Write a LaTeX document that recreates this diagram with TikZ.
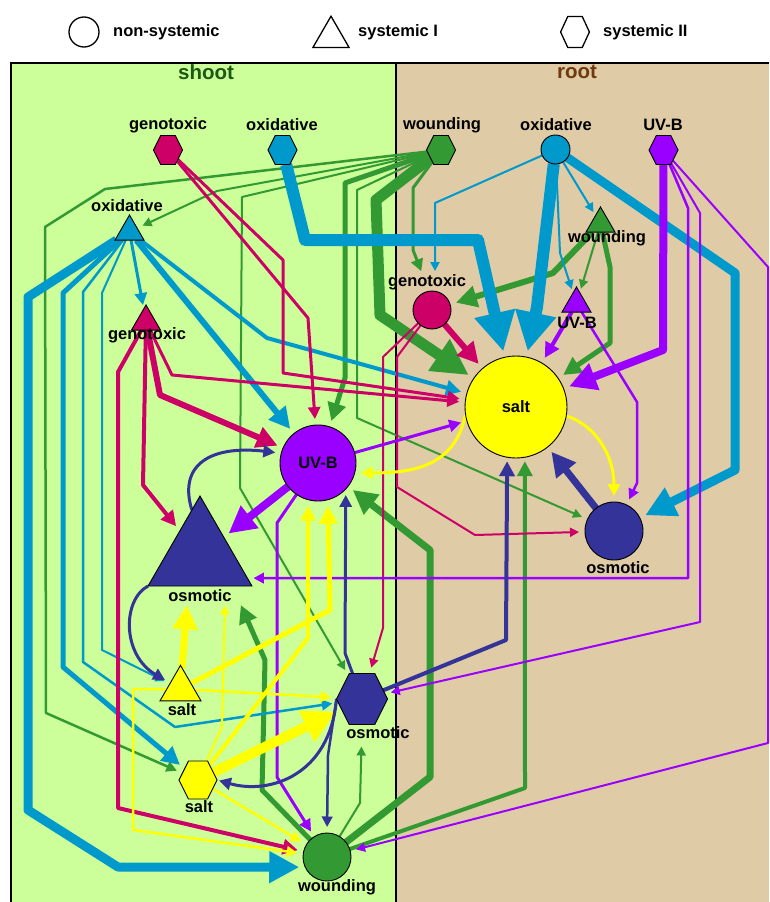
\documentclass[tikz,border=0pt]{standalone}
\usepackage{fontspec}
\setmainfont{Liberation Sans}
\usetikzlibrary{arrows.meta,shapes.geometric}
\definecolor{cshoot}{HTML}{CCFF99}
\definecolor{croot}{HTML}{DFCBA6}
\definecolor{cgen}{HTML}{CC0066}
\definecolor{cox}{HTML}{0099CC}
\definecolor{cw}{HTML}{339933}
\definecolor{cuv}{HTML}{9900FF}
\definecolor{csalt}{HTML}{FFFF00}
\definecolor{cosm}{HTML}{333399}
\definecolor{cshootT}{HTML}{1A5A12}
\definecolor{crootT}{HTML}{6E3A0E}
\pgfdeclarelayer{bg}\pgfdeclarelayer{edges}\pgfsetlayers{bg,edges,main}
\tikzset{
 lk/.style={line width=#1, -{Triangle[length=3pt 3,width=3pt 3]}, shorten >=6pt, line join=round},
 nd/.style={draw=black, line width=0.9pt, inner sep=0pt, outer sep=0pt},
 circ/.style={nd, circle, fill=#1},
 tri/.style={nd, regular polygon, regular polygon sides=3, fill=#1},
 hexs/.style={nd, regular polygon, regular polygon sides=6, fill=#1},
 lab/.style={font=\bfseries\fontsize{16.5}{18}\selectfont, inner sep=1pt},
 ttl/.style={font=\bfseries\fontsize{20.5}{24}\selectfont, inner sep=1pt},
}
\newcommand\hexat[4]{\begin{scope}[shift={#2},xscale=0.866]\node[hexs=#4,minimum size=#3,transform shape] (#1) at (0,0) {};\end{scope}}
\begin{document}
\begin{tikzpicture}[x=1pt,y=-1pt]
\useasboundingbox (0,0) rectangle (769,902);
\begin{pgfonlayer}{bg}
\fill[white] (0,0) rectangle (769,902);
\fill[cshoot] (11,63) rectangle (396,902);
\fill[croot] (396,63) rectangle (769,902);
\draw[line width=1.4pt] (11,902) -- (11,63) -- (769,63);
\draw[line width=1.4pt] (396,63) -- (396,902);
\end{pgfonlayer}

% legend
\node[nd, circle, minimum size=30pt, fill=white, line width=1.3pt] (legC) at (84,32) {};
\node[lab, anchor=west] (legCt) at (112,32) {non-systemic};
\node[nd, regular polygon, regular polygon sides=3, minimum size=41.6pt, fill=white, line width=1.3pt] (legT) at (331,37) {};
\node[lab, anchor=west] (legTt) at (357,32) {systemic I};
\begin{scope}[shift={(575,32)},xscale=0.8]
\node[hexs=white, minimum size=36pt, line width=1.3pt, transform shape] (legH) at (0,0) {};
\end{scope}
\node[lab, anchor=west] (legHt) at (602,32) {systemic II};
\node[ttl, text=cshootT] (tS) at (206,72) {shoot};
\node[ttl, text=crootT] (tR) at (577,72) {root};

% nodes
\node[circ=cox, minimum size=29pt] (oR0) at (555.5,149.5) {};
\hexat{gS2}{(168,150)}{33.5pt}{cgen}
\hexat{oS2}{(282.5,150)}{33.5pt}{cox}
\hexat{wR2}{(441,150)}{33.5pt}{cw}
\hexat{uR2}{(663.5,150)}{33.5pt}{cuv}
\node[tri=cox, minimum size=33.5pt] (oS1) at (129.5,231.7) {};
\node[tri=cgen, minimum size=33.5pt] (gS1) at (146,321.7) {};
\node[tri=cw, minimum size=33.5pt] (wR1) at (600.5,223.7) {};
\node[tri=cuv, minimum size=33.5pt] (uR1) at (576.5,303.7) {};
\node[circ=cgen, minimum size=38pt] (gR0) at (432,310) {};
\node[circ=csalt, minimum size=102pt, lab] (sR0) at (516,407) {salt};
\node[circ=cuv, minimum size=76pt, lab] (uS0) at (318,463) {UV-B};
\node[circ=cosm, minimum size=58pt] (mR0) at (614,531) {};
\node[tri=cosm, minimum size=120pt] (mS1) at (200,556) {};
\node[tri=csalt, minimum size=47.3pt] (sS1) at (180.5,689) {};
\hexat{sS2}{(198,780)}{43.9pt}{csalt}
\hexat{mS2}{(362,699)}{58.9pt}{cosm}
\node[circ=cw, minimum size=48pt] (wS0) at (327,857) {};

% labels
\node[lab] (lgS2) at (168,125) {genotoxic};
\node[lab] (loS2) at (282,125) {oxidative};
\node[lab] (lwR2) at (442,125) {wounding};
\node[lab] (loR0) at (556,125) {oxidative};
\node[lab] (luR2) at (663,125) {UV-B};
\node[lab] (loS1) at (127,206) {oxidative};
\node[lab] (lgS1) at (147,335) {genotoxic};
\node[lab] (lwR1) at (607,238) {wounding};
\node[lab] (lgR0) at (427,282) {genotoxic};
\node[lab] (luR1) at (577,323) {UV-B};
\node[lab] (lmR0) at (618,568) {osmotic};
\node[lab] (lmS1) at (200,596) {osmotic};
\node[lab] (lsS1) at (182,710) {salt};
\node[lab] (lsS2) at (199,807) {salt};
\node[lab] (lmS2) at (378,733) {osmotic};
\node[lab] (lwS0) at (337,887) {wounding};

\begin{pgfonlayer}{edges}
% green
\draw[lk=2pt,cw] (wR2) -- (217,191) -- (oS1);
\draw[lk=2.5pt,cw] (wR2) -- (105,189) -- (45,227) -- (46,713) -- (sS2);
\draw[lk=2pt,cw] (wR2) -- (242,197) -- (240,488) -- (mS2);
\draw[lk=5pt,cw] (wR2) -- (345,183) -- (345,378) -- (uS0);
\draw[lk=2pt,cw] (wR2) -- (357,190) -- (357,418) -- (mR0);
\draw[lk=11pt,cw] (wR2) -- (376,200) -- (380,315) -- (sR0);
\draw[lk=3pt,cw,shorten >=2pt] (wR2) -- (413,188) -- (413,250) -- ([xshift=-5pt]lgR0.north);
\draw[lk=6pt,cw] (wR1) -- (553,273) -- (gR0);
\draw[lk=2pt,cw,shorten >=4pt] (wR1) -- (uR1);
\draw[lk=5pt,cw] (wR1) -- (610,267) -- (610,343) -- (sR0);
\draw[lk=7pt,cw] (wS0) -- (430,777) -- (430,550) -- (uS0);
\draw[lk=4pt,cw,shorten >=4pt] (wS0) -- (525,788) -- (sR0.-80);
\draw[lk=2pt,cw,shorten >=22pt] (wS0) -- (360,803) -- (mS2.south);
\draw[lk=5pt,cw,shorten >=2pt] (wS0) -- (262,790) -- (265,660) -- ([xshift=40pt]lmS1.south);
% blue
\draw[lk=12pt,cox] (oS2) -- (305,240) -- (478,240) -- (sR0);
\draw[lk=12pt,cox] (oR0) -- (537,307) -- (sR0);
\draw[lk=9pt,cox] (oR0) -- (735,273) -- (735,470) -- (mR0);
\draw[lk=2pt,cox,shorten >=4pt] (oR0) -- (wR1);
\draw[lk=2pt,cox,shorten >=2pt] (oR0) -- (435,203) -- ([xshift=8pt]lgR0.north);
\draw[lk=2pt,cox,shorten >=4pt] (oR0) -- (560,253) -- (uR1);
\draw[lk=3pt,cox,shorten >=4pt] (oS1) -- (gS1);
\draw[lk=6pt,cox] (oS1) -- (uS0);
\draw[lk=4pt,cox] (oS1) -- (267,338) -- (sR0);
\draw[lk=9pt,cox] (oS1) -- (28,297) -- (28,810) -- (118,867) -- (wS0.205);
\draw[lk=5pt,cox] (oS1) -- (63,293) -- (63,667) -- (sS2);
\draw[lk=2.5pt,cox] (oS1) -- (83,292) -- (83,662) -- (175,727) -- (mS2);
\draw[lk=2pt,cox] (oS1) -- (102,293) -- (102,650) -- (sS1);
% crimson
\draw[lk=3pt,cgen] (gS2) -- (283,260) -- (283,373) -- (sR0);
\draw[lk=3pt,cgen] (gS2) -- (308,318) -- (uS0);
\draw[lk=6pt,cgen] (gS1) -- (160,395) -- (uS0);
\draw[lk=4pt,cgen] (gS1) -- (143,485) -- (mS1);
\draw[lk=3pt,cgen] (gS1) -- (172,375) -- (sR0);
\draw[lk=4pt,cgen] (gS1) -- (118,372) -- (118,808) -- (wS0);
\draw[lk=6pt,cgen] (gR0) -- (sR0);
\draw[lk=2pt,cgen] (gR0) -- (383,357) -- (383,628) -- (mS2);
\draw[lk=2pt,cgen] (gR0) -- (397,357) -- (397,487) -- (475,535) -- (mR0);
% purple
\draw[lk=8pt,cuv] (uR2) -- (663,350) -- (sR0);
\draw[lk=2.5pt,cuv] (uR2) -- (688,208) -- (688,578) -- (mS1.-25);
\draw[lk=2pt,cuv] (uR2) -- (700,213) -- (700,622) -- (mS2);
\draw[lk=2pt,cuv] (uR2) -- (768,267) -- (768,743) -- (wS0);
\draw[lk=4pt,cuv] (uR1) -- (sR0);
\draw[lk=2.5pt,cuv] (uR1) -- (637,402) -- (637,483) -- (mR0);
\draw[lk=8pt,cuv] (uS0) -- (mS1);
\draw[lk=3pt,cuv] (uS0) -- (sR0);
\draw[lk=3pt,cuv] (uS0) -- (277,523) -- (277,777) -- (wS0);
% yellow
\draw[lk=3pt,csalt] (sR0.188) .. controls (455,468) and (410,473) .. (uS0.-15);
\draw[lk=3pt,csalt] (sR0.-10) .. controls (595,425) and (614,455) .. (mR0.north);
\draw[lk=7pt,csalt,shorten >=2pt] (sS1) -- ([xshift=-13pt]lmS1.south);
\draw[lk=5pt,csalt] (sS1) -- (330,610) -- (uS0.-75);
\draw[lk=2.5pt,csalt] (sS1) -- (mS2);
\draw[lk=2.5pt,csalt] (sS1) -- (133,689) -- (133,830) -- (wS0);
\draw[lk=10pt,csalt] (sS2) -- (mS2);
\draw[lk=2pt,csalt,shorten >=2pt] (sS2) -- (222,727) -- ([xshift=25pt]lmS1.south);
\draw[lk=4pt,csalt] (sS2) -- (308,638) -- (uS0.-105);
\draw[lk=2.5pt,csalt] (sS2) -- (wS0);
% navy
\draw[lk=7pt,cosm] (mR0) -- (sR0);
\draw[lk=3pt,cosm] (mS1.100) .. controls (178,465) and (210,445) .. (uS0.165);
\draw[lk=3pt,cosm] (mS1.corner 2) .. controls (122,600) and (122,655) .. (sS1.150);
\draw[lk=4pt,cosm,shorten >=4pt] (mS2) -- (506,640) -- (sR0.-100);
\draw[lk=3pt,cosm] (mS2) -- (345,653) -- (uS0.-43);
\draw[lk=2.5pt,cosm] (mS2.corner 3) -- (328,755) -- (wS0.north);
\draw[lk=3pt,cosm,shorten >=2pt] (mS2.corner 3) .. controls (330,775) and (270,795) .. (sS2.east);
\end{pgfonlayer}
\end{tikzpicture}
\end{document}
